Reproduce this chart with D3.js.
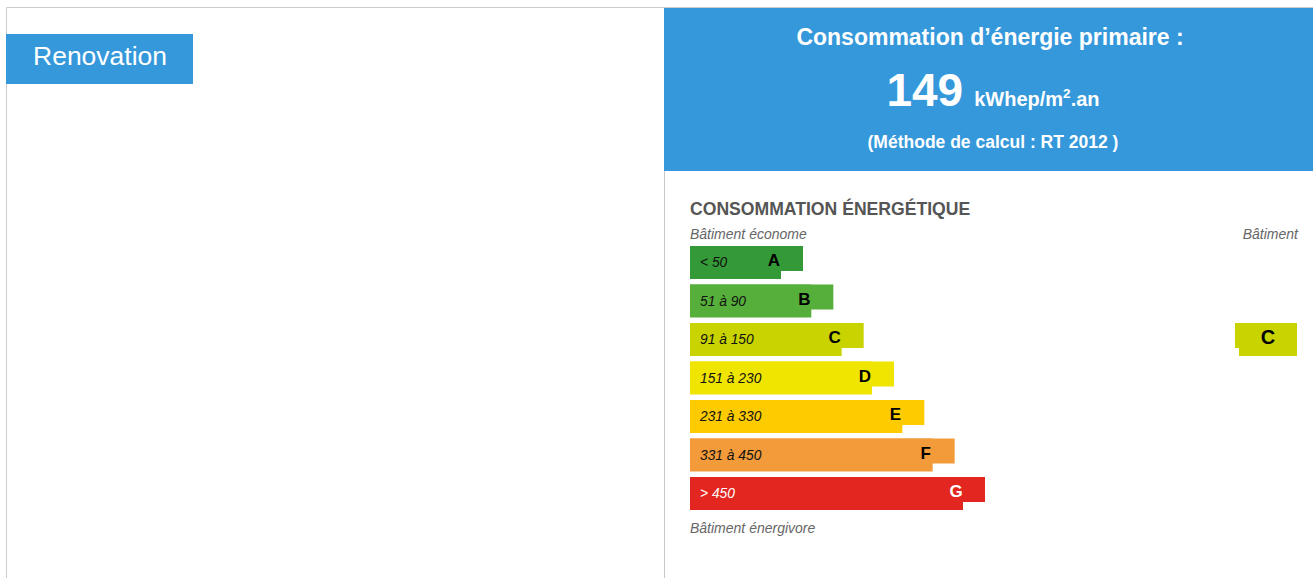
<!DOCTYPE html>
<html>
<head>
<meta charset="utf-8">
<script src="https://cdn.jsdelivr.net/npm/d3@7"></script>
<style>
  body { margin: 0; background: #fff; }
  svg { display: block; font-family: "Liberation Sans", Arial, Helvetica, sans-serif; }
</style>
</head>
<body>
<svg id="chart" width="1313" height="578"></svg>
<script>
// data
var classes = ['A', 'B', 'C', 'D', 'E', 'F', 'G'];
var ranges = ['< 50', '51 à 90', '91 à 150', '151 à 230', '231 à 330', '331 à 450', '> 450'];
var limits = [51, 91, 151, 231, 331, 451];
var colors = ['#339a37', '#56ae3b', '#c8d300', '#f0e500', '#fdcb00', '#f39a3a', '#e3261f'];
var consumption = 149;
var unit = 'kWhep/m';
var method = '(Méthode de calcul : RT 2012 )';

var svg = d3.select('#chart');
var blue = '#3598db';

// left panel
svg.append('line')
  .attr('x1', 6.5).attr('x2', 1313).attr('y1', 7.5).attr('y2', 7.5)
  .style('stroke', '#cccccc');
svg.append('line')
  .attr('x1', 6.5).attr('x2', 6.5).attr('y1', 7.5).attr('y2', 578)
  .style('stroke', '#cccccc');
svg.append('line')
  .attr('x1', 664.5).attr('x2', 664.5).attr('y1', 171).attr('y2', 578)
  .style('stroke', '#c8c8c8');

svg.append('rect')
  .attr('x', 6).attr('y', 34).attr('width', 187).attr('height', 50)
  .style('fill', blue);
svg.append('text')
  .attr('x', 33).attr('y', 65)
  .style('fill', '#fff').style('font-size', '26.5px')
  .text('Renovation');

// header
svg.append('rect')
  .attr('x', 664).attr('y', 8).attr('width', 649).attr('height', 163)
  .style('fill', blue);
svg.append('text')
  .attr('x', 990).attr('y', 45)
  .attr('text-anchor', 'middle')
  .style('fill', '#fff').style('font-size', '23px').style('font-weight', 'bold')
  .text('Consommation d’énergie primaire :');

var big = svg.append('text')
  .attr('x', 993).attr('y', 106)
  .attr('text-anchor', 'middle')
  .style('fill', '#fff').style('font-weight', 'bold');
big.append('tspan').style('font-size', '46px').text(consumption);
big.append('tspan').attr('dx', 11).style('font-size', '20px').text(unit);
big.append('tspan').attr('dy', -8).style('font-size', '13.5px').text('2');
big.append('tspan').attr('dy', 8).style('font-size', '20px').text('.an');

svg.append('text')
  .attr('x', 993).attr('y', 148)
  .attr('text-anchor', 'middle')
  .style('fill', '#fff').style('font-size', '17.5px').style('font-weight', 'bold')
  .text(method);

// energy label
svg.append('text')
  .attr('x', 690).attr('y', 215)
  .style('fill', '#555').style('font-size', '17.6px').style('font-weight', 'bold')
  .text('CONSOMMATION ÉNERGÉTIQUE');
svg.append('text')
  .attr('x', 690).attr('y', 239)
  .style('fill', '#666').style('font-size', '14px').style('font-style', 'italic')
  .text('Bâtiment économe');
svg.append('text')
  .attr('x', 1298).attr('y', 239)
  .attr('text-anchor', 'end')
  .style('fill', '#666').style('font-size', '14px').style('font-style', 'italic')
  .text('Bâtiment');
svg.append('text')
  .attr('x', 690).attr('y', 533)
  .style('fill', '#666').style('font-size', '14px').style('font-style', 'italic')
  .text('Bâtiment énergivore');

var y = d3.scaleBand()
  .domain(classes)
  .range([246, 246 + 6 * 38.5 + 33])
  .paddingInner(5.5 / 38.5)
  .paddingOuter(0);

var len = d3.scaleLinear()
  .domain([0, classes.length - 1])
  .range([113, 295]);

var x0 = 690;
var notch = 22;
var topH = 25;

var rows = svg.selectAll('.row')
  .data(classes)
  .enter()
  .append('g')
  .attr('class', 'row')
  .attr('transform', function(d){ return 'translate(' + x0 + ',' + y(d) + ')'; });

rows.append('rect')
  .attr('width', function(d, i){ return len(i) - notch; })
  .attr('height', y.bandwidth())
  .style('fill', function(d, i){ return colors[i]; });
rows.append('rect')
  .attr('width', function(d, i){ return len(i); })
  .attr('height', topH)
  .style('fill', function(d, i){ return colors[i]; });

rows.append('text')
  .attr('x', 10).attr('y', 21)
  .style('font-size', '13.8px').style('font-style', 'italic')
  .style('fill', function(d){ return d == 'G' ? '#fff' : '#111'; })
  .text(function(d, i){ return ranges[i]; });

rows.append('text')
  .attr('x', function(d, i){ return len(i) - 29; })
  .attr('y', 20)
  .attr('text-anchor', 'middle')
  .style('font-size', '17px').style('font-weight', 'bold')
  .style('fill', function(d){ return d == 'G' ? '#fff' : '#000'; })
  .text(function(d){ return d; });

// current class marker
var current = d3.scaleThreshold().domain(limits).range(classes)(consumption);
var ci = classes.indexOf(current);
var marker = svg.append('g')
  .attr('transform', 'translate(1297,' + y(current) + ')');
marker.append('rect')
  .attr('x', -58).attr('width', 58).attr('height', y.bandwidth())
  .style('fill', colors[ci]);
marker.append('rect')
  .attr('x', -62).attr('width', 62).attr('height', topH)
  .style('fill', colors[ci]);
marker.append('text')
  .attr('x', -29).attr('y', 21)
  .attr('text-anchor', 'middle')
  .style('font-size', '20px').style('font-weight', 'bold')
  .text(current);
</script>
</body>
</html>
